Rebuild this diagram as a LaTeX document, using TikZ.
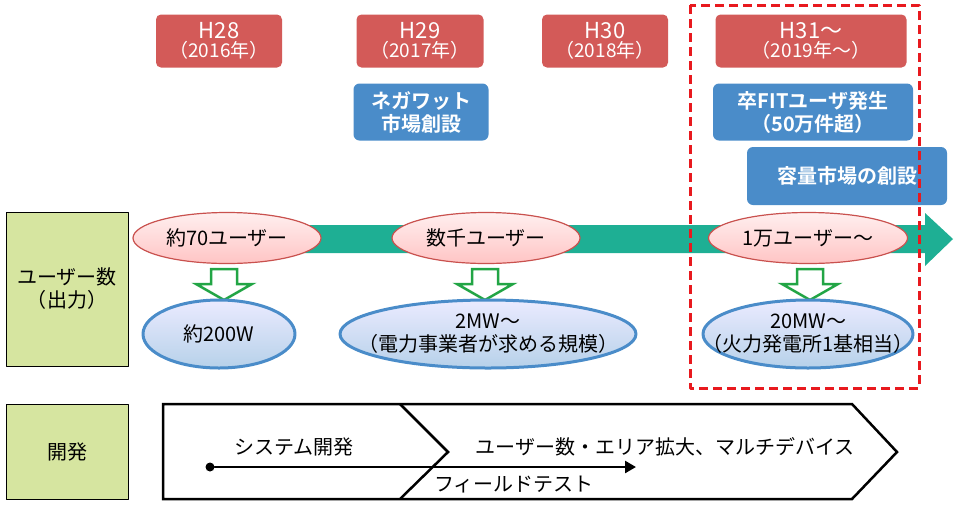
\documentclass[tikz,border=0pt]{standalone}
\usepackage{fontspec}
\setmainfont{Noto Sans CJK JP}[BoldFont={Noto Sans CJK JP Bold}]
\usetikzlibrary{arrows.meta,shapes.geometric}
\definecolor{yearred}{HTML}{D35A58}
\definecolor{evblue}{HTML}{4A8CC9}
\definecolor{flowgreen}{HTML}{1EAF94}
\definecolor{hollowgreen}{HTML}{22A545}
\definecolor{pinkline}{HTML}{C9514E}
\definecolor{labelgreen}{HTML}{D6E5A0}
\definecolor{dashred}{HTML}{E8191E}
\newcommand{\lblfont}{\fontsize{20pt}{23pt}\selectfont}
\newcommand{\yrfont}{\fontsize{19pt}{20pt}\selectfont}

\begin{document}
\begin{tikzpicture}[x=1pt,y=-1pt,line cap=round,line join=round,
  yearbox/.style={rectangle,rounded corners=5pt,fill=yearred,text=white,align=center,
    font=\fontsize{22pt}{20pt}\selectfont,inner sep=0pt},
  eventbox/.style={rectangle,rounded corners=6pt,fill=evblue,text=white,align=center,
    font=\lblfont\bfseries,inner sep=0pt},
  usercloud/.style={ellipse,draw=pinkline,line width=1.2pt,top color=pink!25,bottom color=pink!95!red!80,
    font=\lblfont,inner sep=0pt,minimum height=51pt},
  powercloud/.style={draw=evblue,line width=3pt,top color=blue!8,bottom color=evblue!40},
  powertext/.style={align=center,font=\lblfont,inner sep=0pt},
  rowlabel/.style={rectangle,draw=black,line width=0.8pt,fill=labelgreen,align=center,
    font=\lblfont,minimum width=122pt},
  hollow/.style={draw=hollowgreen,fill=white,line width=2.5pt,line join=miter}]
\useasboundingbox (0,0) rectangle (960,504);

% years
\node[yearbox,minimum width=126pt,minimum height=53pt] (y28) at (219,41) {H28\\[-1pt]{\yrfont（2016年）}};
\node[yearbox,minimum width=127pt,minimum height=53pt] (y29) at (420,41) {H29\\[-1pt]{\yrfont（2017年）}};
\node[yearbox,minimum width=126pt,minimum height=53pt] (y30) at (605,41) {H30\\[-1pt]{\yrfont（2018年）}};
\node[yearbox,minimum width=191pt,minimum height=53pt] (y31) at (811,41) {H31〜\\[-1pt]{\yrfont（2019年〜）}};

% events
\node[eventbox,minimum width=135pt,minimum height=57pt] (negawatt) at (421,112) {ネガワット\\市場創設};
\node[eventbox,minimum width=200pt,minimum height=57pt] (sotsufit) at (813,112) {卒FITユーザ発生\\（50万件超）};
\node[eventbox,minimum width=200pt,minimum height=58pt] (capacity) at (847,176) {容量市場の創設};

% main flow
\draw [fill=flowgreen,draw=none] (150,225) -- (925,225) -- (925,213) -- (953,239)
  -- (925,266) -- (925,253) -- (150,253) -- cycle;

\node[rowlabel,minimum height=154pt] (users) at (67,289) {ユーザー数\\（出力）};
\node[rowlabel,minimum height=95pt] (dev) at (67,452) {開発};

\node[usercloud,minimum width=188pt] (u70) at (227,238) {約70ユーザー};
\node[usercloud,minimum width=188pt] (uk) at (486,238) {数千ユーザー};
\node[usercloud,minimum width=199pt] (u10k) at (808,238) {1万ユーザー〜};

\foreach \cx in {224,485,810}
  \draw [hollow] (\cx-13,269) -- (\cx+13,269) -- (\cx+13,284) -- (\cx+28,284)
    -- (\cx,300) -- (\cx-28,284) -- (\cx-13,284) -- cycle;

\draw [powercloud] (219,334) ellipse [x radius=76, y radius=34];
\draw [powercloud] (488,334) ellipse [x radius=148, y radius=34];
\draw [powercloud] (808,334) ellipse [x radius=105, y radius=34];
\node[powertext] (p200) at (219,334) {約200W};
\node[powertext] (p2m) at (488,334) {2MW〜\\（電力事業者が求める規模）};
\node[powertext] (p20m) at (808,334) {20MW〜\\（火力発電所1基相当）};

% development
\draw [line width=2.5pt,line join=miter] (163,404) -- (852,404) -- (897,452) -- (852,499) -- (163,499) -- cycle;
\draw [line width=2.5pt,line join=miter] (400,404) -- (448,452) -- (400,499);
\node[font=\lblfont] (sysdev) at (294,447) {システム開発};
\node[font=\lblfont] (expand) at (665,447) {ユーザー数・エリア拡大、マルチデバイス};
\node[font=\lblfont] (field) at (514,485) {フィールドテスト};
\node[circle,fill=black,inner sep=0pt,minimum size=9pt] (fstart) at (210,467) {};
\coordinate (fend) at (636,467);
\draw [line width=2.5pt,-{Triangle[length=11pt,width=12pt]}] (fstart) -- (fend);

% focus
\draw [dashred,line width=3pt,line cap=butt,dash pattern=on 9pt off 5pt] (690,5) rectangle (919,388);
\end{tikzpicture}
\end{document}
